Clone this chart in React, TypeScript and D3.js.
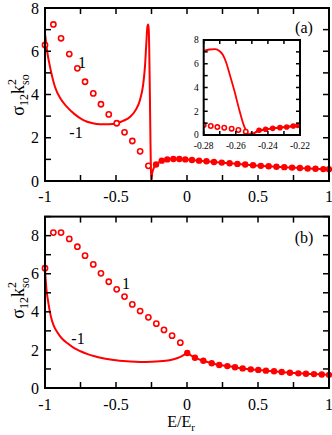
import React from 'react';
import * as d3 from 'd3';

// panel (a): branch -1 (solid line), branch 1 (open circles), above threshold (filled circles)
const aLine: [number, number][] = [
  [-1, 6.83], [-0.985, 6.0], [-0.965, 5.29], [-0.93, 4.36], [-0.89, 3.8], [-0.847, 3.44],
  [-0.79, 3.08], [-0.73, 2.82], [-0.67, 2.68], [-0.613, 2.62], [-0.55, 2.62], [-0.495, 2.67],
  [-0.45, 2.78], [-0.4, 2.97], [-0.36, 3.3], [-0.331, 3.75], [-0.31, 4.4], [-0.296, 5.29],
  [-0.287, 6.3], [-0.28, 7.07], [-0.2765, 7.2], [-0.2728, 7.24], [-0.27, 7.05], [-0.268, 6.74],
  [-0.266, 6.1], [-0.264, 5.2], [-0.261, 3.79], [-0.2578, 2.1], [-0.2547, 0.7], [-0.2516, 0.02],
  [-0.2455, 0.35], [-0.2414, 0.46], [-0.237, 0.55], [-0.2325, 0.62], [-0.2283, 0.68],
  [-0.2242, 0.74], [-0.218, 0.76],
];
const aOpen: [number, number][] = [
  [-1, 6.29], [-0.941, 7.24], [-0.887, 6.6], [-0.829, 5.87], [-0.772, 5.21], [-0.718, 4.59],
  [-0.66, 4.05], [-0.606, 3.55], [-0.551, 3.08], [-0.495, 2.67], [-0.44, 2.25], [-0.385, 1.85],
  [-0.33, 1.37], [-0.272, 0.7],
];
const aFilled: [number, number][] = [
  [-0.218, 0.76], [-0.178, 0.94], [-0.139, 1.0], [-0.096, 1.02], [-0.054, 1.02], [-0.012, 1.0],
  [0.035, 0.97], [0.085, 0.94], [0.137, 0.91], [0.19, 0.88], [0.245, 0.85], [0.3, 0.82],
  [0.355, 0.79], [0.41, 0.76], [0.465, 0.73], [0.52, 0.7], [0.575, 0.68], [0.63, 0.66],
  [0.685, 0.64], [0.74, 0.62], [0.795, 0.6], [0.85, 0.58], [0.905, 0.565], [0.96, 0.55], [1.0, 0.54],
];

// inset of (a)
const insetOpen: [number, number][] = [
  [-0.28, 0.84], [-0.2756, 0.76], [-0.2715, 0.67], [-0.2672, 0.61], [-0.2626, 0.53],
  [-0.2584, 0.42], [-0.2538, 0.28],
];
const insetFilled: [number, number][] = [
  [-0.2501, 0.0], [-0.2455, 0.4], [-0.2414, 0.48], [-0.237, 0.56], [-0.2325, 0.62],
  [-0.2283, 0.67], [-0.2242, 0.76], [-0.2213, 0.8],
];

// panel (b)
const bLine: [number, number][] = [
  [-1, 6.2], [-0.99, 5.2], [-0.977, 4.5], [-0.96, 3.8], [-0.94, 3.3], [-0.92, 3.0],
  [-0.9, 2.78], [-0.87, 2.52], [-0.847, 2.38], [-0.8, 2.12], [-0.75, 1.93], [-0.7, 1.78],
  [-0.65, 1.67], [-0.6, 1.58], [-0.55, 1.51], [-0.5, 1.46], [-0.45, 1.42], [-0.4, 1.39],
  [-0.33, 1.37], [-0.25, 1.38], [-0.15, 1.43], [-0.1, 1.5], [-0.05, 1.62], [-0.015, 1.76],
  [0.002, 1.84],
];
const bOpen: [number, number][] = [
  [-1, 6.29], [-0.941, 8.16], [-0.887, 8.16], [-0.829, 7.83], [-0.772, 7.42], [-0.718, 6.95],
  [-0.66, 6.49], [-0.606, 6.02], [-0.551, 5.58], [-0.495, 5.18], [-0.44, 4.8], [-0.385, 4.39],
  [-0.33, 4.04], [-0.272, 3.71], [-0.216, 3.38], [-0.162, 3.05], [-0.105, 2.75], [-0.047, 2.38],
];
const bFilled: [number, number][] = [
  [0.002, 1.84], [0.056, 1.59], [0.115, 1.43], [0.174, 1.3], [0.227, 1.21], [0.284, 1.15],
  [0.338, 1.09], [0.392, 1.03], [0.449, 0.98], [0.502, 0.95], [0.556, 0.91], [0.613, 0.88],
  [0.667, 0.84], [0.725, 0.8], [0.784, 0.77], [0.838, 0.75], [0.894, 0.73], [0.949, 0.71], [1.0, 0.69],
];

const xTickLabels = [-1, -0.5, 0, 0.5, 1];
const insetXLabels = [-0.28, -0.26, -0.24, -0.22];
const yTickLabels = [0, 2, 4, 6, 8];

const RED = '#ff0000';
const FONT = '"Liberation Serif", "Times New Roman", serif';

type Sc = d3.ScaleLinear<number, number>;

function Frame({ x, y, xTicks, yTicks, len, xLabels, yLabels, fs, xLabDy, yLabDx }: {
  x: Sc; y: Sc; xTicks: number[]; yTicks: number[]; len: number;
  xLabels: number[]; yLabels: number[]; fs: number; xLabDy: number; yLabDx: number;
}) {
  const [x0, x1] = x.range();
  const [y0, y1] = y.range();
  const fmt = (v: number) => (Math.abs(v) < 1e-9 ? '0' : String(+v.toFixed(2)));
  return (
    <g>
      {xTicks.map((t, i) => (
        <g key={'xt' + i} stroke="#000" strokeWidth={1.5}>
          <line x1={x(t)} x2={x(t)} y1={y0} y2={y0 - len} />
          <line x1={x(t)} x2={x(t)} y1={y1} y2={y1 + len} />
        </g>
      ))}
      {yTicks.map((t, i) => (
        <g key={'yt' + i} stroke="#000" strokeWidth={1.5}>
          <line x1={x0} x2={x0 + len} y1={y(t)} y2={y(t)} />
          <line x1={x1} x2={x1 - len} y1={y(t)} y2={y(t)} />
        </g>
      ))}
      <rect x={x0} y={y1} width={x1 - x0} height={y0 - y1} fill="none" stroke="#000" strokeWidth={2} />
      {xLabels.map((t, i) => (
        <text key={'xl' + i} x={x(t)} y={y0 + xLabDy} textAnchor="middle" fontSize={fs} fontFamily={FONT}>{fmt(t)}</text>
      ))}
      {yLabels.map((t, i) => (
        <text key={'yl' + i} x={x0 - yLabDx} y={y(t)} dy="0.35em" textAnchor="end" fontSize={fs} fontFamily={FONT}>{fmt(t)}</text>
      ))}
    </g>
  );
}

function Series({ x, y, line, open, filled, r, sw, clip }: {
  x: Sc; y: Sc; line: [number, number][]; open: [number, number][]; filled: [number, number][];
  r: number; sw: number; clip?: string;
}) {
  const gen = d3.line<[number, number]>().x(d => x(d[0])).y(d => y(d[1])).curve(d3.curveMonotoneX);
  return (
    <g clipPath={clip}>
      <path d={gen(line) || ''} fill="none" stroke={RED} strokeWidth={sw} />
      {filled.length > 1 && <path d={gen(filled) || ''} fill="none" stroke={RED} strokeWidth={sw} />}
      {open.map((d, i) => (
        <circle key={'o' + i} cx={x(d[0])} cy={y(d[1])} r={r} fill="#fff" stroke={RED} strokeWidth={1.6} />
      ))}
      {filled.map((d, i) => (
        <circle key={'f' + i} cx={x(d[0])} cy={y(d[1])} r={r + 0.6} fill={RED} />
      ))}
    </g>
  );
}

function YTitle({ cx, cy }: { cx: number; cy: number }) {
  return (
    <text transform={`translate(${cx},${cy}) rotate(-90)`} textAnchor="middle" fontFamily={FONT} fontSize={18}>
      σ<tspan fontSize={12} dy={4}>12</tspan>
      <tspan dy={-4}>k</tspan>
      <tspan fontSize={12} dy={-8}>2</tspan>
      <tspan fontSize={12} dx={-6} dy={13}>so</tspan>
    </text>
  );
}

const range = (a: number, b: number, s: number) => d3.range(0, Math.round((b - a) / s) + 1).map(i => a + i * s);

export default function App() {
  const x = d3.scaleLinear().domain([-1, 1]).range([45, 329]);
  const ya = d3.scaleLinear().domain([0, 8]).range([181, 8]);
  const yb = d3.scaleLinear().domain([0, 9]).range([388, 216.6]);
  const xi = d3.scaleLinear().domain([-0.28, -0.22]).range([203.7, 300]);
  const yi = d3.scaleLinear().domain([0, 8]).range([135, 40]);
  const mainXTicks = range(-1, 1, 0.25);

  return (
    <div style={{ position: 'absolute', left: 0, top: 0 }}>
      <svg width={332} height={435} style={{ display: 'block', background: '#fff' }}>
        <defs>
          <clipPath id="insetClip">
            <rect x={203.7} y={40} width={96.3} height={95} />
          </clipPath>
        </defs>

        {/* panel (a) */}
        <Series x={x} y={ya} line={aLine} open={aOpen} filled={aFilled} r={2.6} sw={2} />
        <Frame x={x} y={ya} xTicks={mainXTicks} yTicks={range(0, 8, 1)} len={6}
          xLabels={xTickLabels} yLabels={yTickLabels} fs={16} xLabDy={21} yLabDx={6} />
        <text x={82} y={68} textAnchor="middle" fontSize={16} fontFamily={FONT}>1</text>
        <text x={76} y={138} textAnchor="middle" fontSize={16} fontFamily={FONT}>-1</text>
        <text x={304} y={33} textAnchor="middle" fontSize={16} fontFamily={FONT}>(a)</text>
        <YTitle cx={24} cy={95} />

        {/* inset */}
        <rect x={203.7} y={40} width={96.3} height={95} fill="#fff" />
        <Series x={xi} y={yi} line={aLine} open={insetOpen} filled={insetFilled} r={2.2} sw={1.8} clip="url(#insetClip)" />
        <Frame x={xi} y={yi} xTicks={range(-0.28, -0.22, 0.01)} yTicks={range(0, 8, 1)} len={4}
          xLabels={insetXLabels} yLabels={yTickLabels} fs={9.5} xLabDy={14} yLabDx={5} />

        {/* panel (b) */}
        <Series x={x} y={yb} line={bLine} open={bOpen} filled={bFilled} r={2.6} sw={2} />
        <Frame x={x} y={yb} xTicks={mainXTicks} yTicks={range(0, 9, 1)} len={6}
          xLabels={xTickLabels} yLabels={yTickLabels} fs={16} xLabDy={22} yLabDx={6} />
        <text x={126} y={289} textAnchor="middle" fontSize={16} fontFamily={FONT}>1</text>
        <text x={78} y={344} textAnchor="middle" fontSize={16} fontFamily={FONT}>-1</text>
        <text x={304} y={243} textAnchor="middle" fontSize={16} fontFamily={FONT}>(b)</text>
        <YTitle cx={24} cy={298} />

        <text x={181} y={427} textAnchor="middle" fontSize={16} fontFamily={FONT}>
          E/E<tspan fontSize={11} dy={4}>r</tspan>
        </text>
      </svg>
    </div>
  );
}
